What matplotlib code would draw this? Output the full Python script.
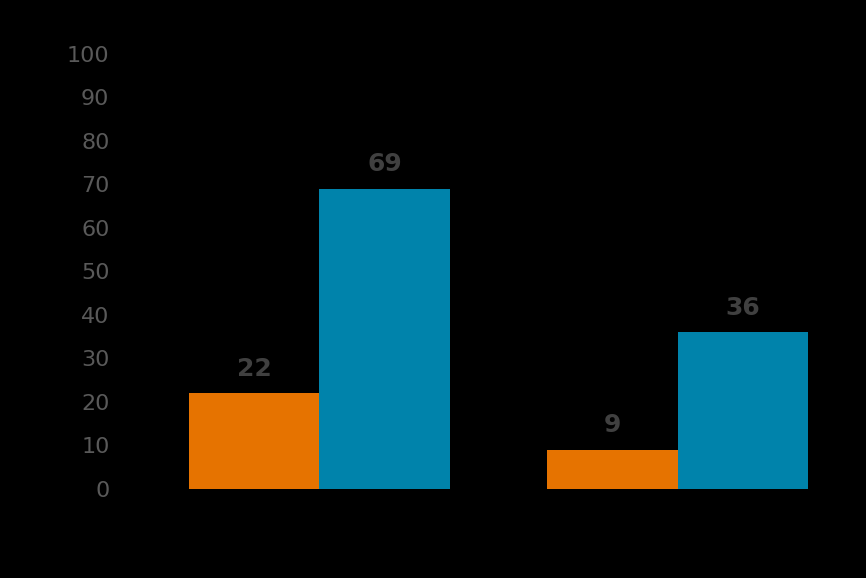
import matplotlib.pyplot as plt
import numpy as np

groups = ["", ""]
series_a = [22, 9]
series_b = [69, 36]
yticks = [0, 10, 20, 30, 40, 50, 60, 70, 80, 90, 100]

ORANGE = "#E67300"
BLUE = "#0083AB"
BG = "#000000"

fig = plt.figure(figsize=(8.66, 5.78), dpi=100, facecolor=BG)
ax = fig.add_axes([0.1617, 0.154, 0.828, 0.7526], facecolor=BG)

x = np.arange(len(groups))
w = 0.364
bars_a = ax.bar(x - w / 2, series_a, w, color=ORANGE)
bars_b = ax.bar(x + w / 2, series_b, w, color=BLUE)

# value labels above the bars
for bars in (bars_a, bars_b):
    for b in bars:
        ax.annotate(str(int(b.get_height())), (b.get_x() + b.get_width() / 2, b.get_height()),
                    xytext=(0, 9), textcoords="offset points", ha="center", va="bottom",
                    fontsize=18, fontweight="bold", color="#404040")

ax.set_xlim(-0.5, 1.5)
ax.set_ylim(0, 100)
ax.set_yticks(yticks)
ax.set_xticks([])
ax.tick_params(axis="y", length=0, pad=22, labelsize=16, labelcolor="#595959")
for s in ax.spines.values():
    s.set_visible(False)

fig.savefig("out.png", dpi=100, facecolor=BG)
